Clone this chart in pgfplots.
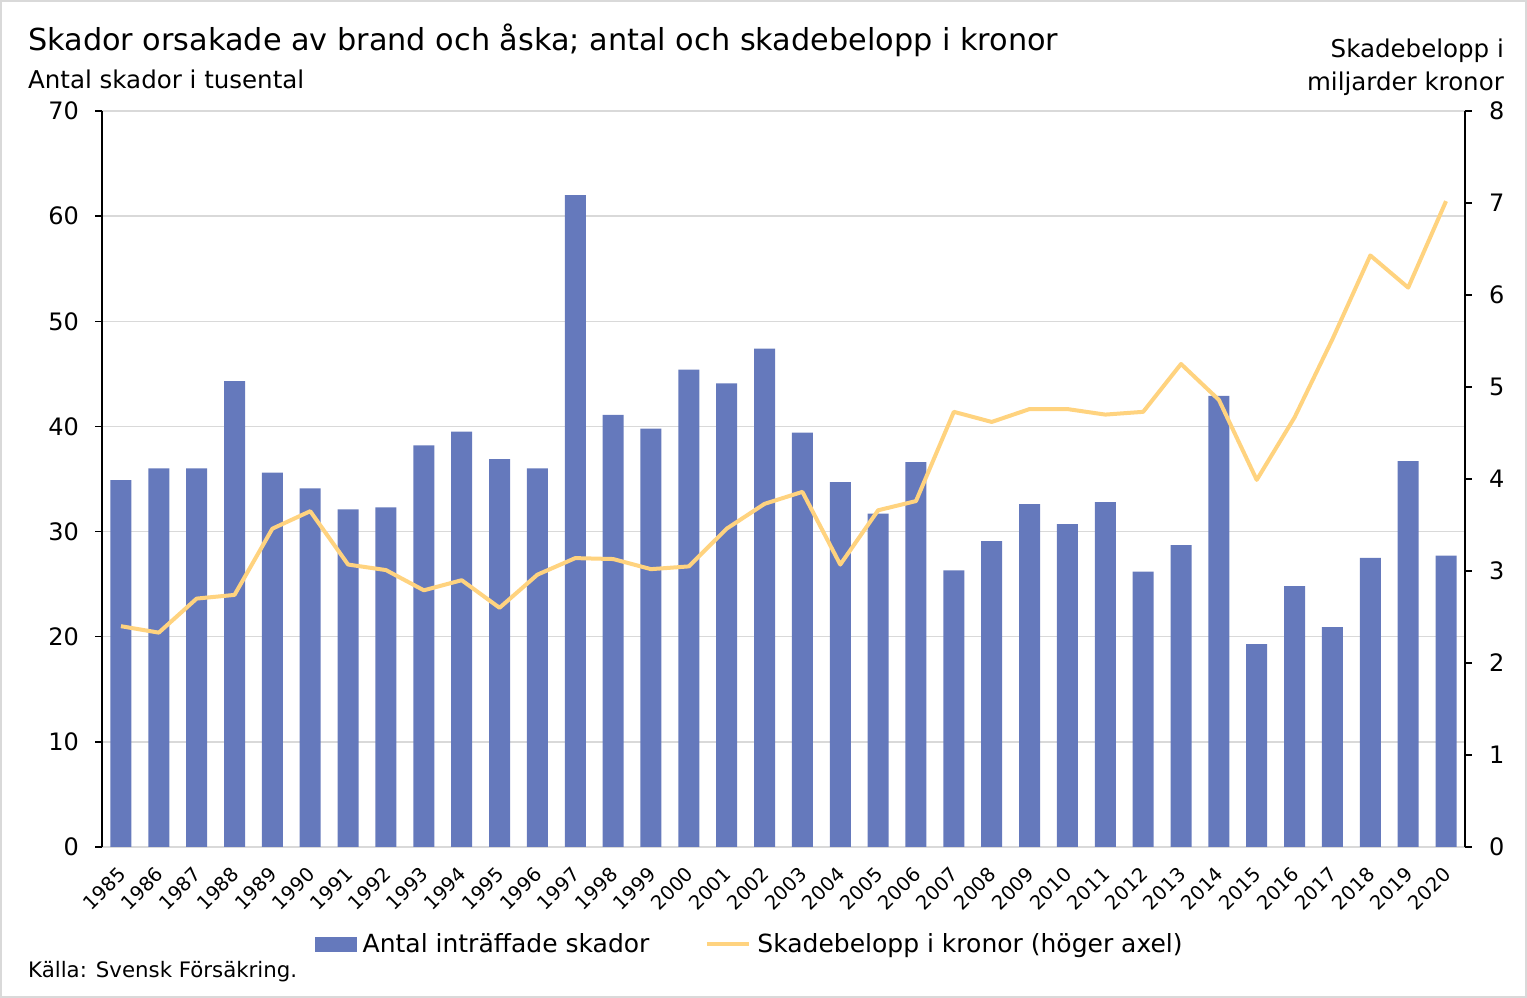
\documentclass[border=0pt]{standalone}
\usepackage{fontspec}
\setmainfont{DejaVu Sans}
\usepackage{pgfplots}
\usepackage{pgfplotstable}
\pgfplotsset{compat=1.18}

\definecolor{barblue}{HTML}{6579BC}
\definecolor{lineyellow}{HTML}{FFD37F}
\definecolor{gridgray}{HTML}{D9D9D9}

\newcommand{\fs}[1]{\fontsize{#1}{#1}\selectfont}

% year, antal skador (tusental), skadebelopp (mdr kr)
\pgfplotstableread{
year count amount
1985 34.9 2.40
1986 36.0 2.33
1987 36.0 2.70
1988 44.3 2.74
1989 35.6 3.46
1990 34.1 3.65
1991 32.1 3.07
1992 32.3 3.01
1993 38.2 2.79
1994 39.5 2.90
1995 36.9 2.60
1996 36.0 2.96
1997 62.0 3.14
1998 41.1 3.13
1999 39.8 3.02
2000 45.4 3.05
2001 44.1 3.46
2002 47.4 3.73
2003 39.4 3.86
2004 34.7 3.07
2005 31.7 3.66
2006 36.6 3.76
2007 26.3 4.73
2008 29.1 4.62
2009 32.6 4.76
2010 30.7 4.76
2011 32.8 4.70
2012 26.2 4.73
2013 28.7 5.25
2014 42.9 4.86
2015 19.3 3.99
2016 24.8 4.67
2017 20.9 5.52
2018 27.5 6.43
2019 36.7 6.08
2020 27.7 7.02
}\data

\pgfplotsset{
  base/.style={
    at={(102pt,151pt)}, anchor=south west,
    width=1363pt, height=736pt, scale only axis,
    xmin=1984.5, xmax=2020.5,
    tick align=outside, major tick length=7pt,
    axis line style={-, line width=1.5pt},
    /pgf/number format/1000 sep={},
    /pgf/number format/assume math mode=true,
    yticklabel style={font=\fs{24}},
    xticklabel style={font=\fs{19.5}},
  },
}

\begin{document}
\begin{tikzpicture}[x=1pt,y=1pt]
\draw[gridgray, line width=2pt] (1,1) rectangle (1526,997);

\begin{axis}[base,
  ymin=0, ymax=70, ytick={0,10,...,70},
  axis y line*=left, axis x line*=bottom,
  x axis line style={draw=gridgray},
  xtick={1985,...,2020},
  xtick style={draw=none},
  ytick style={black, line width=1.5pt},
  yticklabel style={inner sep=0pt, xshift=-16pt},
  xticklabel style={inner sep=0pt, anchor=east, xshift=1pt, yshift=-17pt, rotate=45},
  ymajorgrids, grid style={gridgray, line width=1.5pt},
]
\addplot[ybar, bar width=21pt, fill=barblue, draw=none] table[x=year, y=count] {\data};
\end{axis}

\begin{axis}[base,
  ymin=0, ymax=8, ytick={0,1,...,8},
  axis y line*=right, axis x line=none,
  ytick style={black, line width=1.5pt},
  yticklabel style={inner sep=0pt, xshift=17pt},
  legend columns=2,
  legend style={at={(0.4754,-0.1318)}, anchor=center, draw=none, fill=none,
    font=\fs{25}, inner sep=0pt,
    /tikz/every odd column/.append style={column sep=4pt},
    /tikz/every even column/.append style={column sep=54pt}},
  legend cell align=left,
]
\addlegendimage{legend image code/.code={\fill[barblue] (0pt,-7pt) rectangle (41pt,7pt);}}
\addlegendentry{Antal inträffade skador}
\addplot[lineyellow, line width=4pt, line join=round, no marks,
  legend image code/.code={\draw[lineyellow, line width=4pt] (0pt,0pt) -- (42pt,0pt);}]
  table[x=year, y=amount] {\data};
\addlegendentry{Skadebelopp i kronor (höger axel)}
\end{axis}

\node[anchor=base west, inner sep=0pt, font=\fs{30.3}] at (28,947) {Skador orsakade av brand och åska; antal och skadebelopp i kronor};
\node[anchor=base west, inner sep=0pt, font=\fs{24.5}] at (28,909) {Antal skador i tusental};
\node[anchor=base east, inner sep=0pt, font=\fs{24.5}] at (1504,940) {Skadebelopp i};
\node[anchor=base east, inner sep=0pt, font=\fs{24.5}] at (1504,907) {miljarder kronor};
\node[anchor=base west, inner sep=0pt, font=\fs{21.3}] at (28,20) {Källa: Svensk Försäkring.};
\end{tikzpicture}
\end{document}
